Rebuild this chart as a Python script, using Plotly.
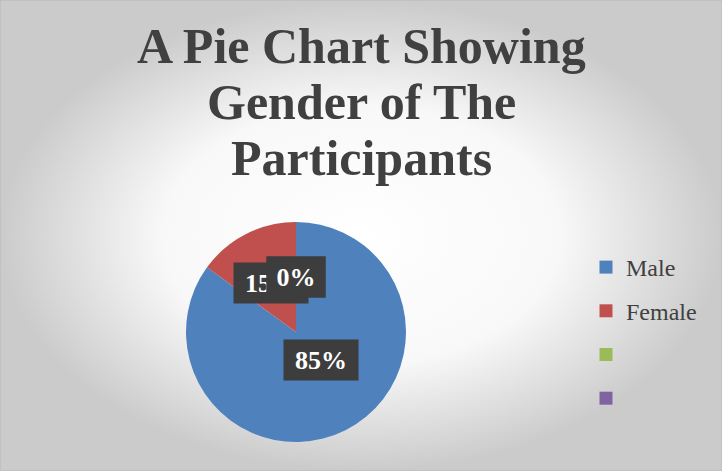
import math
import plotly.graph_objects as go

# ---- data ----
categories = ["Male", "Female", "", ""]
values = [85, 15, 0, 0]
slice_colors = ["#4F81BD", "#C0504D", "#9BBB59", "#8064A2"]
title_lines = ["A Pie Chart Showing", "Gender of The", "Participants"]

W, H = 722, 471
SERIF = "Liberation Serif, Times New Roman, serif"

# pie geometry (pixels)
cx_px, cy_px, r_px = 296, 332, 110

fig = go.Figure()

# background radial gradient
fig.add_trace(go.Scatter(
    x=[0, 1, 1, 0, 0], y=[0, 0, 1, 1, 0], mode="lines", fill="toself",
    line=dict(width=0), showlegend=False, hoverinfo="skip",
    fillgradient=dict(type="radial", colorscale=[[0, "#ffffff"], [0.55, "#f8f8f8"], [1, "#cbcbcb"]]),
))

fig.add_trace(go.Pie(
    labels=[c if c else " " * (i + 1) for i, c in enumerate(categories)],
    values=values, sort=False, direction="clockwise", rotation=0,
    marker=dict(colors=slice_colors, line=dict(width=0)),
    textinfo="none", showlegend=False, hoverinfo="label+percent",
    domain=dict(x=[(cx_px - r_px) / W, (cx_px + r_px) / W],
                y=[1 - (cy_px + r_px) / H, 1 - (cy_px - r_px) / H]),
))

# legend entries via dummy traces
for i, (c, col) in enumerate(zip(categories, slice_colors)):
    fig.add_trace(go.Scatter(
        x=[None], y=[None], mode="markers", name=c if c else " ",
        marker=dict(symbol="square", size=13, color=col),
        legendgroup=f"g{i}", showlegend=True,
    ))

# data labels in dark boxes at half radius
total = sum(values)
cum = 0
label_items = []
for v in values:
    mid = (cum + v / 2) / total * 2 * math.pi
    cum += v
    pct = round(v / total * 100)
    label_items.append((mid, f"{pct}%"))
for mid, txt in label_items:
    dx = 0.5 * r_px * math.sin(mid)
    dy = -0.5 * r_px * math.cos(mid)
    w = 74 if len(txt) > 2 else 58
    fig.add_annotation(
        x=(cx_px + dx) / W, y=1 - (cy_px + dy) / H, xref="paper", yref="paper",
        text=f"<b>{txt}</b>", showarrow=False,
        font=dict(family=SERIF, size=26, color="white"),
        bgcolor="#3d3d3d", width=w, height=40, borderpad=0,
    )

# title lines
centers = [46, 102, 158]
for line, yc in zip(title_lines, centers):
    fig.add_annotation(
        x=0.5, y=1 - yc / H, xref="paper", yref="paper", text=f"<b>{line}</b>",
        showarrow=False, font=dict(family=SERIF, size=50, color="#404040"),
        xanchor="center", yanchor="middle",
    )

fig.add_shape(type="rect", xref="paper", yref="paper", x0=0, y0=0, x1=1, y1=1,
              line=dict(color="#b8b8b8", width=1))

fig.update_layout(
    width=W, height=H, margin=dict(l=0, r=0, t=0, b=0),
    paper_bgcolor="#d9d9d9", plot_bgcolor="rgba(0,0,0,0)",
    xaxis=dict(visible=False, range=[0, 1], domain=[0, 1], fixedrange=True),
    yaxis=dict(visible=False, range=[0, 1], domain=[0, 1], fixedrange=True),
    legend=dict(x=586 / W, y=1 - 245 / H, xanchor="left", yanchor="top",
                traceorder="grouped", tracegroupgap=9.5,
                font=dict(family=SERIF, size=24, color="#404040"),
                bgcolor="rgba(0,0,0,0)"),
    showlegend=True,
)

fig.write_html("out.html", config={"displayModeBar": False},
               post_script="document.body.style.margin='0';")
